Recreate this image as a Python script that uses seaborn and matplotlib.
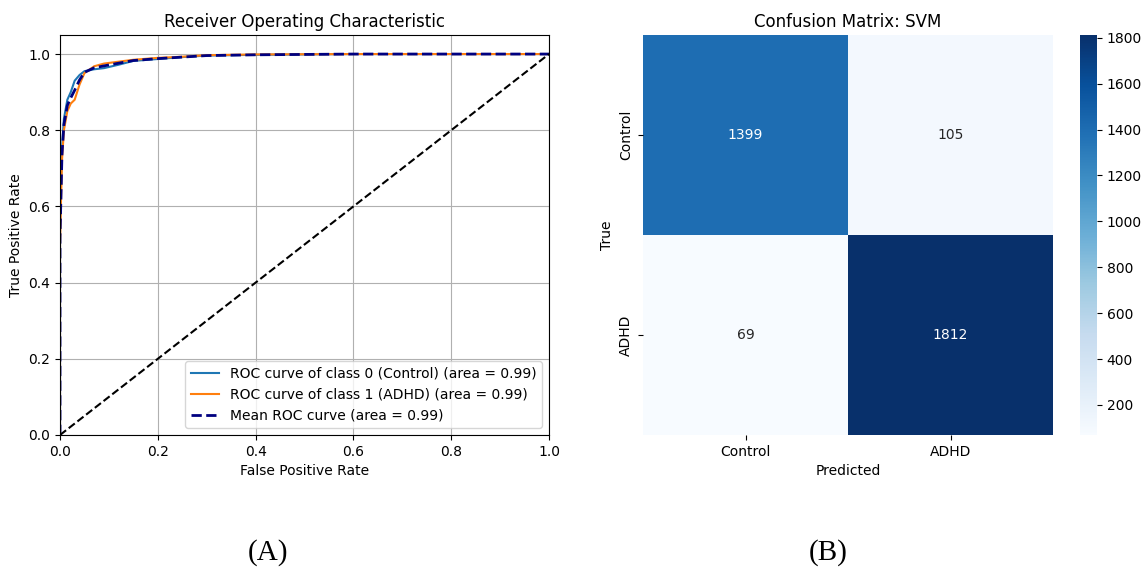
import numpy as np
import pandas as pd
import matplotlib
matplotlib.use("Agg")
import matplotlib.pyplot as plt
import seaborn as sns

# ROC data
fpr_class0 = [0.0, 0.0, 0.004, 0.008, 0.015, 0.022, 0.03, 0.04, 0.05, 0.07, 0.09, 0.12, 0.15, 0.2, 0.25, 0.3, 0.4, 0.6, 0.8, 1.0]
tpr_class0 = [0.0, 0.55, 0.75, 0.83, 0.88, 0.9, 0.93, 0.945, 0.955, 0.96, 0.963, 0.972, 0.982, 0.987, 0.992, 0.996, 0.998, 1.0, 1.0, 1.0]
fpr_class1 = [0.0, 0.0, 0.004, 0.008, 0.015, 0.022, 0.03, 0.04, 0.05, 0.07, 0.09, 0.12, 0.15, 0.2, 0.25, 0.3, 0.4, 0.6, 0.8, 1.0]
tpr_class1 = [0.0, 0.5, 0.72, 0.8, 0.85, 0.87, 0.88, 0.92, 0.95, 0.968, 0.975, 0.98, 0.985, 0.99, 0.993, 0.997, 0.999, 1.0, 1.0, 1.0]
fpr_mean = [0.0, 0.0, 0.004, 0.008, 0.015, 0.022, 0.03, 0.04, 0.05, 0.07, 0.09, 0.12, 0.15, 0.2, 0.25, 0.3, 0.4, 0.6, 0.8, 1.0]
tpr_mean = [0.0, 0.52, 0.735, 0.815, 0.865, 0.885, 0.905, 0.932, 0.952, 0.964, 0.969, 0.976, 0.983, 0.988, 0.992, 0.996, 0.998, 1.0, 1.0, 1.0]
chance = [0.0, 1.0]

auc_values = [0.99, 0.99, 0.99]
legend_labels = [
    "ROC curve of class 0 (Control) (area = 0.99)",
    "ROC curve of class 1 (ADHD) (area = 0.99)",
    "Mean ROC curve (area = 0.99)",
]

# Confusion matrix data
class_names = ["Control", "ADHD"]
cm_values = [[1399, 105], [69, 1812]]
cbar_ticks = [200, 400, 600, 800, 1000, 1200, 1400, 1600, 1800]

fig = plt.figure(figsize=(11.46, 5.76), dpi=100)
W, H = 1146, 576

def ax_rect(x0, y0, x1, y1):
    return [x0 / W, 1 - y1 / H, (x1 - x0) / W, (y1 - y0) / H]

ax1 = fig.add_axes(ax_rect(60, 35, 549, 435))
df0 = pd.DataFrame({"fpr": fpr_class0, "tpr": tpr_class0})
df1 = pd.DataFrame({"fpr": fpr_class1, "tpr": tpr_class1})
dfm = pd.DataFrame({"fpr": fpr_mean, "tpr": tpr_mean})
sns.lineplot(data=df0, x="fpr", y="tpr", ax=ax1, color="#1f77b4", lw=1.5,
             label=legend_labels[0], sort=False, estimator=None)
sns.lineplot(data=df1, x="fpr", y="tpr", ax=ax1, color="#ff7f0e", lw=1.5,
             label=legend_labels[1], sort=False, estimator=None)
sns.lineplot(data=dfm, x="fpr", y="tpr", ax=ax1, color="navy", lw=2,
             linestyle="--", label=legend_labels[2], sort=False, estimator=None)
ax1.plot(chance, chance, "k--", lw=1.5)
ax1.set_xlim(0.0, 1.0)
ax1.set_ylim(0.0, 1.05)
ax1.set_xlabel("False Positive Rate")
ax1.set_ylabel("True Positive Rate")
ax1.set_title("Receiver Operating Characteristic")
ax1.grid(True)
ax1.legend(loc="lower right")

ax2 = fig.add_axes(ax_rect(643, 35, 1053, 435))
cax = fig.add_axes(ax_rect(1080, 35, 1097, 435))
cm_df = pd.DataFrame(cm_values, index=class_names, columns=class_names)
sns.heatmap(cm_df, annot=True, fmt="d", cmap="Blues", ax=ax2, cbar_ax=cax,
            cbar_kws={"ticks": cbar_ticks})
ax2.set_title("Confusion Matrix: SVM")
ax2.set_xlabel("Predicted")
ax2.set_ylabel("True")

fig.text(268 / W, 1 - 553 / H, "(A)", ha="center", va="center",
         fontsize=21, family="Liberation Serif")
fig.text(828 / W, 1 - 553 / H, "(B)", ha="center", va="center",
         fontsize=21, family="Liberation Serif")

fig.savefig("out.png", dpi=100)
